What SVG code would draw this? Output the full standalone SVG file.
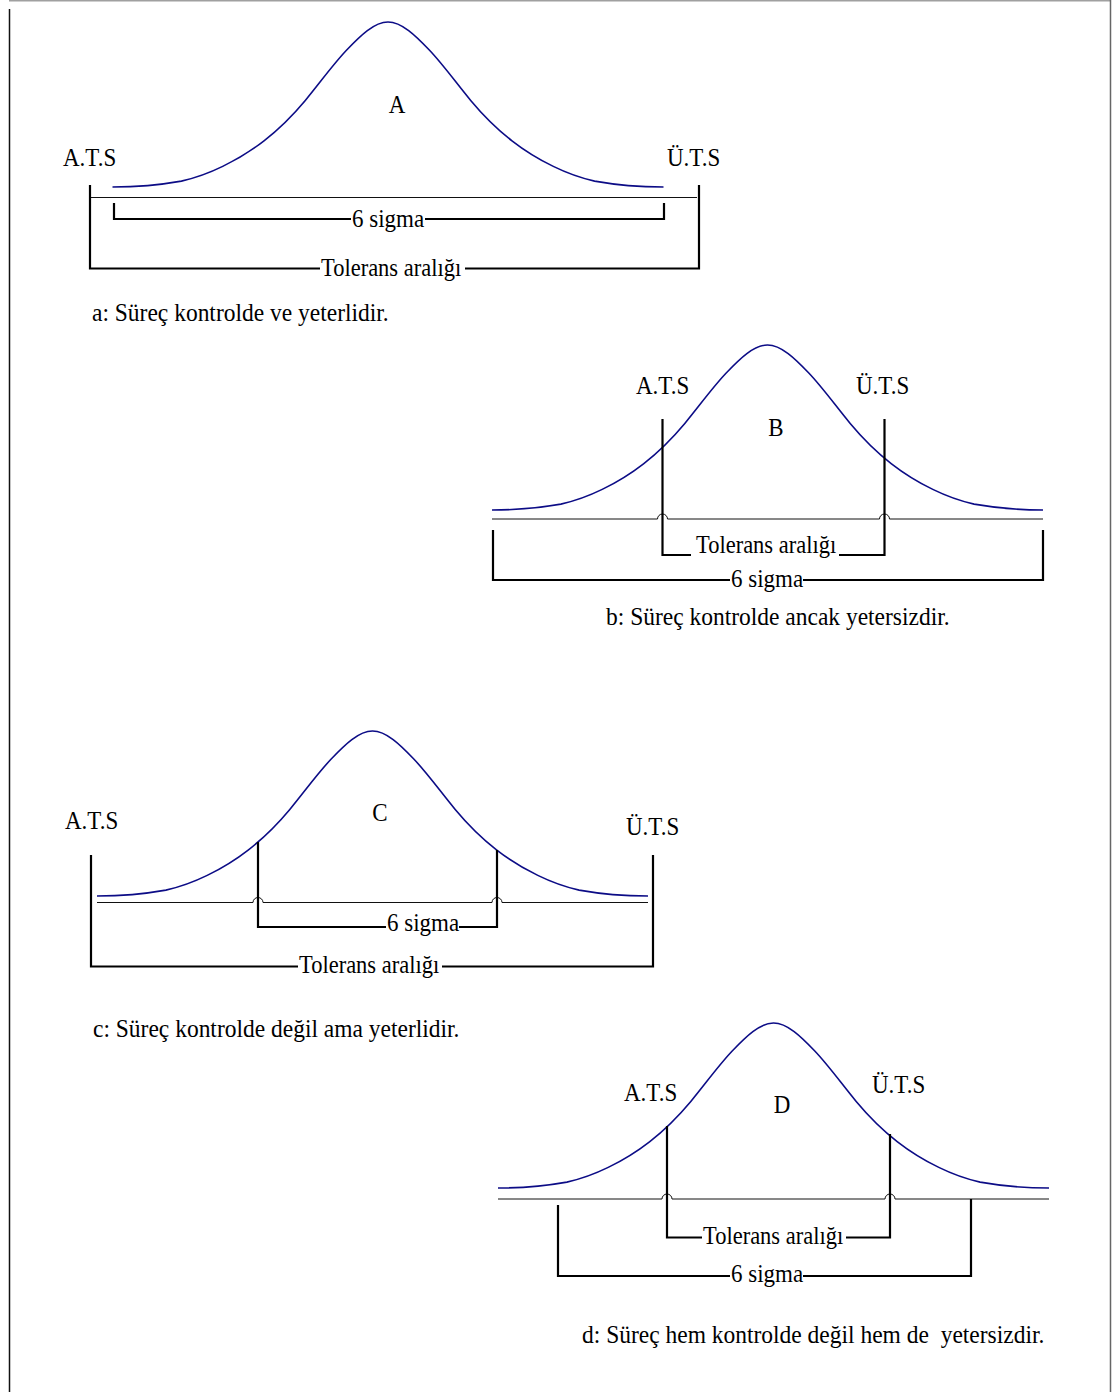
<svg xmlns="http://www.w3.org/2000/svg" xmlns:xlink="http://www.w3.org/1999/xlink" width="1120" height="1392" viewBox="0 0 1120 1392">
<style>
.bell{fill:none;stroke:#0c0c86;stroke-width:1.6}
.base{fill:none;stroke:#111;stroke-width:1}
.br{fill:none;stroke:#000;stroke-width:2.2}
.t{font-family:"Liberation Serif","Times New Roman",serif;font-size:23px;fill:#000}
.tol{font-size:22.5px}
.cap{font-family:"Liberation Serif","Times New Roman",serif;font-size:23.5px;fill:#000;white-space:pre}
.m{text-anchor:middle}
</style>
<defs>
<path id="bell" d="M-275.5,0 C-252.53,0 -229.57,-1.8 -206.6,-5.9 C-192.83,-8.93 -179.07,-13.85 -165.3,-20.6 C-151.53,-27.35 -137.77,-35.46 -124,-46.2 C-110.23,-56.94 -96.47,-70.08 -82.7,-86.6 C-68.9,-103.2 -55.1,-122.5 -41.3,-137 C-27.53,-151.46 -13.77,-165 0,-165 C13.77,-165 27.53,-151.46 41.3,-137 C55.1,-122.5 68.9,-103.2 82.7,-86.6 C96.47,-70.08 110.23,-56.94 124,-46.2 C137.77,-35.46 151.53,-27.35 165.3,-20.6 C179.07,-13.85 192.83,-8.93 206.6,-5.9 C229.57,-1.8 252.53,0 275.5,0"/>
</defs>
<rect width="1120" height="1392" fill="#fff"/>
<g id="frame">
<line x1="9" y1="0.75" x2="1111" y2="0.75" stroke="#a0a0a0" stroke-width="1.5"/>
<line x1="9.5" y1="9" x2="9.5" y2="1392" stroke="#111" stroke-width="1.5"/>
<line x1="1110.5" y1="0" x2="1110.5" y2="1392" stroke="#666" stroke-width="1.5"/>
</g>

<g id="panel-a">
<use xlink:href="#bell" href="#bell" class="bell" x="388" y="187"/>
<path class="base" d="M90,197.5 H697"/>
<g id="connectors-a">
<path class="br" d="M90,185 V268.5 H320 M465,268.5 H699 V185"/>
<path class="br" d="M114,203 V219 H351 M425,219 H664 V203"/>
</g>
<text class="t" transform="matrix(1 0 0 1.08 63 166)">A.T.S</text>
<text class="t" transform="matrix(1 0 0 1.08 667 166)">Ü.T.S</text>
<text class="t m" transform="matrix(1 0 0 1.08 397 113)">A</text>
<text class="t" transform="matrix(1 0 0 1.08 352 227)">6 sigma</text>
<text class="t tol" transform="matrix(1 0 0 1.08 321 276)">Tolerans aralığı</text>
<text class="cap" transform="matrix(1 0 0 1.08 92 321)">a: Süreç kontrolde ve yeterlidir.</text>
</g>

<g id="panel-b">
<use xlink:href="#bell" href="#bell" class="bell" x="767.5" y="510"/>
<path class="base" d="M492,519 H657.5 a5,5 0 0 1 10,0 H879.5 a5,5 0 0 1 10,0 H1043"/>
<g id="connectors-b">
<path class="br" d="M662.5,419 V555 H691 M839,555 H884.5 V419"/>
<path class="br" d="M493,530 V580 H730 M803,580 H1043 V530"/>
</g>
<text class="t" transform="matrix(1 0 0 1.08 636 394)">A.T.S</text>
<text class="t" transform="matrix(1 0 0 1.08 856 394)">Ü.T.S</text>
<text class="t m" transform="matrix(1 0 0 1.08 776 436)">B</text>
<text class="t tol" transform="matrix(1 0 0 1.08 696 553)">Tolerans aralığı</text>
<text class="t" transform="matrix(1 0 0 1.08 731 587)">6 sigma</text>
<text class="cap" transform="matrix(1 0 0 1.08 606 625)">b: Süreç kontrolde ancak yetersizdir.</text>
</g>

<g id="panel-c">
<use xlink:href="#bell" href="#bell" class="bell" x="372.5" y="896"/>
<path class="base" d="M97,902.5 H253 a5,5 0 0 1 10,0 H492 a5,5 0 0 1 10,0 H648"/>
<g id="connectors-c">
<path class="br" d="M258,842 V927 H386 M459,927 H497 V850"/>
<path class="br" d="M91,855 V966.5 H298 M442,966.5 H653 V855"/>
</g>
<text class="t" transform="matrix(1 0 0 1.08 65 829)">A.T.S</text>
<text class="t" transform="matrix(1 0 0 1.08 626 835)">Ü.T.S</text>
<text class="t m" transform="matrix(1 0 0 1.08 380 821)">C</text>
<text class="t" transform="matrix(1 0 0 1.08 387 931)">6 sigma</text>
<text class="t tol" transform="matrix(1 0 0 1.08 299 973)">Tolerans aralığı</text>
<text class="cap" transform="matrix(1 0 0 1.08 93 1037)">c: Süreç kontrolde değil ama yeterlidir.</text>
</g>

<g id="panel-d">
<use xlink:href="#bell" href="#bell" class="bell" x="773.5" y="1188"/>
<path class="base" d="M498,1199 H662 a5,5 0 0 1 10,0 H885 a5,5 0 0 1 10,0 H1049"/>
<g id="connectors-d">
<path class="br" d="M667,1126 V1237.5 H702 M846,1237.5 H890 V1134"/>
<path class="br" d="M558,1205 V1276 H730 M803,1276 H971 V1199"/>
</g>
<text class="t" transform="matrix(1 0 0 1.08 624 1101)">A.T.S</text>
<text class="t" transform="matrix(1 0 0 1.08 872 1093)">Ü.T.S</text>
<text class="t m" transform="matrix(1 0 0 1.08 782 1113)">D</text>
<text class="t tol" transform="matrix(1 0 0 1.08 703 1244)">Tolerans aralığı</text>
<text class="t" transform="matrix(1 0 0 1.08 731 1282)">6 sigma</text>
<text class="cap" transform="matrix(1 0 0 1.08 582 1343)">d: Süreç hem kontrolde değil hem de  yetersizdir.</text>
</g>
</svg>
